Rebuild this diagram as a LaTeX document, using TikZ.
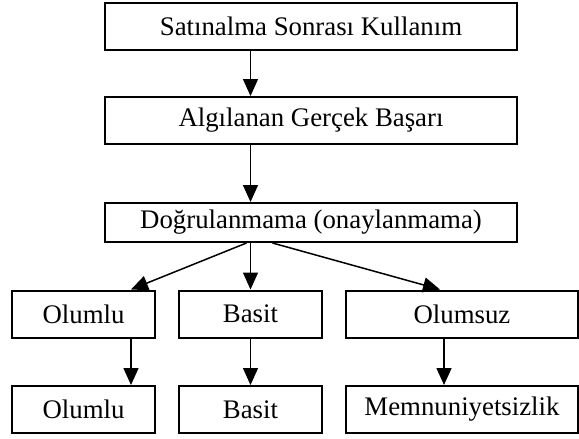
\documentclass[tikz,border=0pt]{standalone}
\usepackage{fontspec}
\setmainfont{Liberation Serif}
\usetikzlibrary{arrows.meta}
\begin{document}
\begin{tikzpicture}[x=1pt,y=-1pt,line width=2pt,
    font=\fontsize{26.8}{32}\selectfont,
    box/.style={draw, rectangle, inner sep=0pt, minimum height=47pt},
    wide/.style={box, minimum width=412pt},
    small/.style={box, minimum width=143pt},
    big/.style={box, minimum width=232pt},
    arr/.style={line width=1.5pt, -{Triangle[length=17pt,width=15pt]}}]
    \useasboundingbox (0,0) rectangle (579,439);
    % ust kutular
    \node[wide] (s1) at (311,26.5)  {Satınalma Sonrası Kullanım};
    \node[wide] (s2) at (311,120.5) {Algılanan Gerçek Başarı};
    \node[wide, minimum height=39pt] (s3) at (311,222.5) {Doğrulanmama (onaylanmama)};
    % alt kutular
    \node[small] (o1) at (83.5,314)  {Olumlu};
    \node[small] (b1) at (250.5,314) {Basit};
    \node[big]   (n1) at (462,314)   {Olumsuz};
    \node[small] (o2) at (83.5,409.5)  {Olumlu};
    \node[small] (b2) at (250.5,409.5) {Basit};
    \node[big]   (m2) at (462,409.5)   {Memnuniyetsizlik};
    \draw[arr] (s1.south -| b1) -- (s2.north -| b1);
    \draw[arr] (s2.south -| b1) -- (s3.north -| b1);
    \draw[arr] ([xshift=-4pt]s3.south -| b1) -- ([xshift=47.5pt]o1.north);
    \draw[arr] (s3.south -| b1) -- (b1.north);
    \draw[arr] ([xshift=22pt]s3.south -| b1) -- ([xshift=-22pt]n1.north);
    \draw[arr] ([xshift=47.5pt]o1.south) -- ([xshift=47.5pt]o2.north);
    \draw[arr] (b1) -- (b2);
    \draw[arr] ([xshift=-18pt]n1.south) -- ([xshift=-18pt]m2.north);
\end{tikzpicture}
\end{document}
